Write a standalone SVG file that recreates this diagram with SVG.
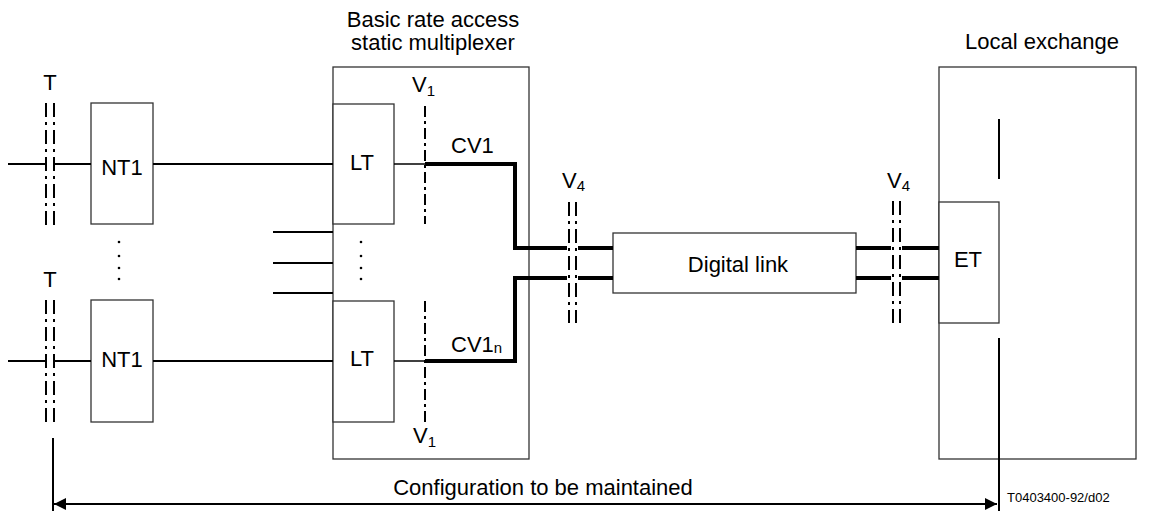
<svg xmlns="http://www.w3.org/2000/svg" width="1149" height="511" viewBox="0 0 1149 511">
<defs>
<style>
text{font-family:"Liberation Sans",Arial,sans-serif;font-size:22px;fill:#000}
.sub{font-size:15px}
.small{font-size:13px}
.box{fill:#fff;stroke:#333;stroke-width:1.3}
.ln{stroke:#000;stroke-width:2;fill:none}
.thin{stroke:#000;stroke-width:1.5;fill:none}
.thick{stroke:#000;stroke-width:4;fill:none}
.dd{stroke:#000;stroke-width:2;fill:none;stroke-dasharray:14 5 3 5}
.dd1{stroke:#000;stroke-width:2;fill:none;stroke-dasharray:11 4 3 4}
</style>
<marker id="ah" viewBox="0 0 12 12" refX="12" refY="6" markerWidth="12" markerHeight="12" markerUnits="userSpaceOnUse" orient="auto-start-reverse">
<path d="M0,0 L12,6 L0,12 Z" fill="#000"/>
</marker>
</defs>

<g id="mux">
<rect class="box" x="333" y="67" width="196" height="392"/>
<text x="433" y="27" text-anchor="middle">Basic rate access</text>
<text x="433" y="50" text-anchor="middle">static multiplexer</text>
<circle cx="361" cy="242" r="1.3"/><circle cx="361" cy="256" r="1.3"/><circle cx="361" cy="268" r="1.3"/><circle cx="361" cy="279" r="1.3"/>
</g>
<g id="lex">
<rect class="box" x="939" y="67" width="197" height="392"/>
<text x="1042" y="49" text-anchor="middle">Local exchange</text>
</g>
<g id="nt1a"><rect class="box" x="91" y="103" width="62" height="121"/><text x="122" y="175" text-anchor="middle">NT1</text></g>
<g id="nt1b"><rect class="box" x="91" y="300" width="62" height="122"/><text x="122" y="367" text-anchor="middle">NT1</text></g>
<g id="lta"><rect class="box" x="333" y="104" width="61" height="120"/><text x="362" y="170" text-anchor="middle">LT</text></g>
<g id="ltb"><rect class="box" x="333" y="301" width="61" height="121"/><text x="362" y="366" text-anchor="middle">LT</text></g>
<g id="dlink"><rect class="box" x="613" y="233" width="243" height="60"/><text x="738" y="272" text-anchor="middle">Digital link</text></g>
<g id="et"><rect class="box" x="939" y="202" width="60" height="121"/><text x="968" y="267" text-anchor="middle">ET</text></g>

<g id="labels">
<text x="50" y="90" text-anchor="middle">T</text>
<text x="50" y="287" text-anchor="middle">T</text>
<text x="412" y="92">V<tspan class="sub" dy="4">1</tspan></text>
<text x="413" y="443">V<tspan class="sub" dy="4">1</tspan></text>
<text x="451" y="153">CV1</text>
<text x="451" y="352">CV1<tspan class="sub" dy="1">n</tspan></text>
<text x="562" y="188">V<tspan class="sub" dy="3">4</tspan></text>
<text x="887" y="188">V<tspan class="sub" dy="3">4</tspan></text>
<text x="543" y="495" text-anchor="middle">Configuration to be maintained</text>
<text class="small" x="1007" y="502">T0403400-92/d02</text>
</g>

<g id="connectors">
<line class="dd" x1="46" y1="103" x2="46" y2="225"/>
<line class="dd" x1="54" y1="103" x2="54" y2="225"/>
<line class="dd" x1="46" y1="300" x2="46" y2="422"/>
<line class="dd" x1="54" y1="300" x2="54" y2="422"/>
<line class="ln" x1="8" y1="164" x2="46" y2="164"/>
<line class="ln" x1="54" y1="164" x2="91" y2="164"/>
<line class="ln" x1="8" y1="361" x2="46" y2="361"/>
<line class="ln" x1="54" y1="361" x2="91" y2="361"/>
<line class="ln" x1="153" y1="164" x2="333" y2="164"/>
<line class="ln" x1="153" y1="361" x2="333" y2="361"/>
<circle cx="119" cy="242" r="1.3"/><circle cx="119" cy="256" r="1.3"/><circle cx="119" cy="268" r="1.3"/><circle cx="119" cy="279" r="1.3"/>
<line class="ln" x1="273" y1="232" x2="333" y2="232"/>
<line class="ln" x1="273" y1="263" x2="333" y2="263"/>
<line class="ln" x1="273" y1="293" x2="333" y2="293"/>
<line class="dd1" x1="425" y1="106" x2="425" y2="224"/>
<line class="dd1" x1="425" y1="301" x2="425" y2="422"/>
<line class="thin" x1="394" y1="164" x2="425" y2="164"/>
<line class="thin" x1="394" y1="361" x2="425" y2="361"/>
<polyline class="thick" points="425,164 515,164 515,248 567,248"/>
<polyline class="thick" points="425,361 515,361 515,278 567,278"/>
<line class="thick" x1="578" y1="248" x2="613" y2="248"/>
<line class="thick" x1="578" y1="278" x2="613" y2="278"/>
<line class="thick" x1="856" y1="248" x2="891" y2="248"/>
<line class="thick" x1="902" y1="248" x2="939" y2="248"/>
<line class="thick" x1="856" y1="278" x2="891" y2="278"/>
<line class="thick" x1="902" y1="278" x2="939" y2="278"/>
<line class="dd" x1="569" y1="202" x2="569" y2="323"/>
<line class="dd" x1="576" y1="202" x2="576" y2="323"/>
<line class="dd" x1="893" y1="201" x2="893" y2="324"/>
<line class="dd" x1="900" y1="201" x2="900" y2="324"/>
<line class="ln" x1="999" y1="119" x2="999" y2="179"/>
<line class="ln" x1="999" y1="338" x2="999" y2="511"/>
<line class="ln" x1="53" y1="438" x2="53" y2="511"/>
<line class="ln" x1="54" y1="504" x2="997" y2="504" marker-start="url(#ah)" marker-end="url(#ah)"/>
</g>
</svg>
